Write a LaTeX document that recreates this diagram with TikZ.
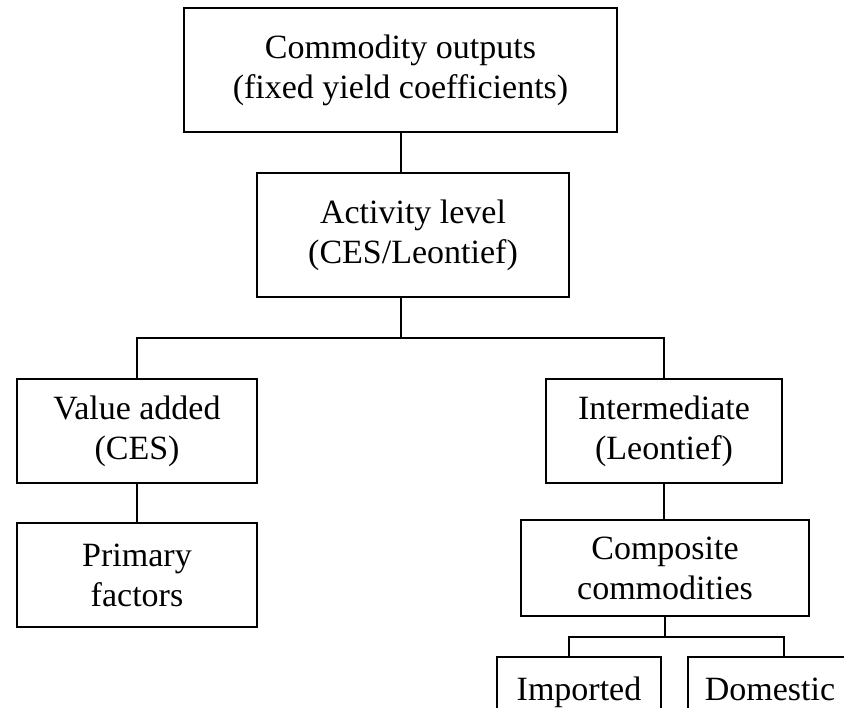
\documentclass[tikz,border=0pt]{standalone}
\usepackage{fontspec}
\setmainfont{Liberation Serif}
\usepackage{tikz}
\usetikzlibrary{positioning}

\tikzset{
	levelbox/.style={draw, line width=2pt, align=center, inner sep=0pt, font=\fontsize{34}{40}\selectfont},
	joint/.style={line width=2pt}
}

\begin{document}
\begin{tikzpicture}[x=1pt, y=-1pt]
		\useasboundingbox (0,0) rectangle (844,708);
		\node[levelbox, minimum width=433, minimum height=124] (outputs) at (400.5,70) {Commodity outputs\\(fixed yield coefficients)};
		\node[levelbox, minimum width=312, minimum height=124] (activity) at (413,235) {Activity level\\(CES/Leontief)};
		\node[levelbox, minimum width=240, minimum height=104] (valueadd) at (137,431) {Value added\\(CES)};
		\node[levelbox, minimum width=236, minimum height=104] (interm) at (664,431) {Intermediate\\(Leontief)};
		\node[levelbox, minimum width=240, minimum height=104] (primary) at (137,575) {Primary\\factors};
		\node[levelbox, minimum width=288, minimum height=96] (composite) at (665,568) {Composite\\commodities};
		\node[levelbox, minimum width=164, minimum height=104] (imported) at (579,709) {Imported\\\phantom{X}};
		\node[levelbox, minimum width=164, minimum height=104] (domestic) at (770,709) {Domestic\\\phantom{X}};
		
		\coordinate (split1) at (401,338);
		\coordinate (split2) at (665,637);
		\coordinate (impin) at (569,657);
		\coordinate (domin) at (784,657);
		
		\draw[joint] (outputs.south -| split1) to (activity.north -| split1);
		\draw[joint] (activity.south -| split1) to (split1);
		\draw[joint] (valueadd.north) to (valueadd.north |- split1) to (interm.north |- split1) to (interm.north);
		\draw[joint] (valueadd.south) to (primary.north);
		\draw[joint] (interm.south) to (composite.north -| interm.south);
		\draw[joint] (composite.south) to (split2);
		\draw[joint] (impin) to (impin |- split2) to (domin |- split2) to (domin);
		
		\end{tikzpicture}
\end{document}
